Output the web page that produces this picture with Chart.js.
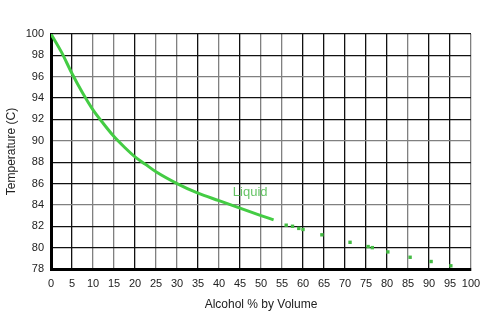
<!DOCTYPE html>
<html>
<head>
<meta charset="utf-8">
<script src="https://cdn.jsdelivr.net/npm/chart.js@4"></script>
<style>
html,body{margin:0;padding:0;background:#fff;}
#wrap{width:484px;height:330px;}
</style>
</head>
<body>
<div id="wrap"><canvas id="c" width="484" height="330"></canvas></div>
<script>
// Liquid curve (solid)
const liquidX = [0, 2.5, 5, 7.5, 10, 12.5, 15, 17.5, 20, 22.5, 25, 30, 35, 40, 45, 50, 53];
const liquidY = [100, 98.3, 96.3, 94.5, 92.9, 91.6, 90.4, 89.4, 88.5, 87.8, 87.1, 86.0, 85.1, 84.4, 83.7, 83.0, 82.6];
// Scattered marks continuing the curve
const markX = [56, 57.5, 59, 60, 64.5, 71.2, 75.5, 76.5, 80.2, 85.5, 90.5, 95.2];
const markY = [82.1, 82.0, 81.8, 81.7, 81.2, 80.5, 80.1, 80.0, 79.6, 79.1, 78.7, 78.3];
const xTicks = [0,5,10,15,20,25,30,35,40,45,50,55,60,65,70,75,80,85,90,95,100];
const yTicks = [78,80,82,84,86,88,90,92,94,96,98,100];
const grayX = [10,15,25,30,40,50,55,85,100];
const grayY = [96,90,84];
const labelText = 'Liquid';
const labelPos = {x: 43.3, y: 85.2};

const textFont = 'Liberation Sans, Arial, sans-serif';

const labelPlugin = {
  id: 'liquidLabel',
  afterDatasetsDraw(chart) {
    const {ctx, scales} = chart;
    ctx.save();
    ctx.font = '13px ' + textFont;
    ctx.fillStyle = '#66c466';
    ctx.textBaseline = 'middle';
    ctx.textAlign = 'left';
    ctx.fillText(labelText, scales.x.getPixelForValue(labelPos.x), scales.y.getPixelForValue(labelPos.y));
    ctx.restore();
  }
};

new Chart(document.getElementById('c'), {
  type: 'scatter',
  data: {
    datasets: [
      {
        data: liquidX.map((x,i)=>({x, y: liquidY[i]})),
        showLine: true,
        borderColor: '#44cc44',
        borderWidth: 3,
        pointRadius: 0,
        tension: 0.4,
        cubicInterpolationMode: 'monotone'
      },
      {
        data: markX.map((x,i)=>({x, y: markY[i]})),
        showLine: false,
        pointStyle: 'rect',
        pointRadius: 2.4,
        backgroundColor: '#44bb44',
        borderColor: '#44bb44',
        borderWidth: 0
      }
    ]
  },
  options: {
    responsive: false,
    animation: false,
    devicePixelRatio: 1,
    layout: {padding: {top: 34, right: 13, left: 0, bottom: 18}},
    plugins: {legend: {display: false}, tooltip: {enabled: false}},
    scales: {
      x: {
        type: 'linear', min: 0, max: 100,
        afterBuildTicks: s => { s.ticks = xTicks.map(v=>({value: v})); },
        afterFit: s => { s.height = 43; s.paddingRight = 0; s.paddingLeft = 0; },
        grid: {
          color: c => (c.tick && grayX.includes(c.tick.value)) ? '#808080' : '#111',
          lineWidth: 1.3,
          drawTicks: false
        },
        border: {display: true, color: '#000', width: 3},
        ticks: {color: '#222', font: {family: textFont, size: 11}, padding: 8, autoSkip: false, maxRotation: 0},
        title: {display: true, text: 'Alcohol % by Volume', color: '#222', font: {family: textFont, size: 12}, padding: {top: 3, bottom: 0}}
      },
      y: {
        type: 'linear', min: 78, max: 100,
        afterBuildTicks: s => { s.ticks = yTicks.map(v=>({value: v})); },
        afterFit: s => { s.width = 51; s.paddingTop = 0; s.paddingBottom = 0; },
        grid: {
          color: c => (c.tick && grayY.includes(c.tick.value)) ? '#808080' : '#111',
          lineWidth: 1.3,
          drawTicks: false
        },
        border: {display: true, color: '#000', width: 3},
        ticks: {color: '#222', font: {family: textFont, size: 11}, padding: 7, autoSkip: false},
        title: {display: true, text: 'Temperature (C)', color: '#222', font: {family: textFont, size: 12}, padding: {bottom: 6}}
      }
    }
  },
  plugins: [labelPlugin]
});
</script>
</body>
</html>
